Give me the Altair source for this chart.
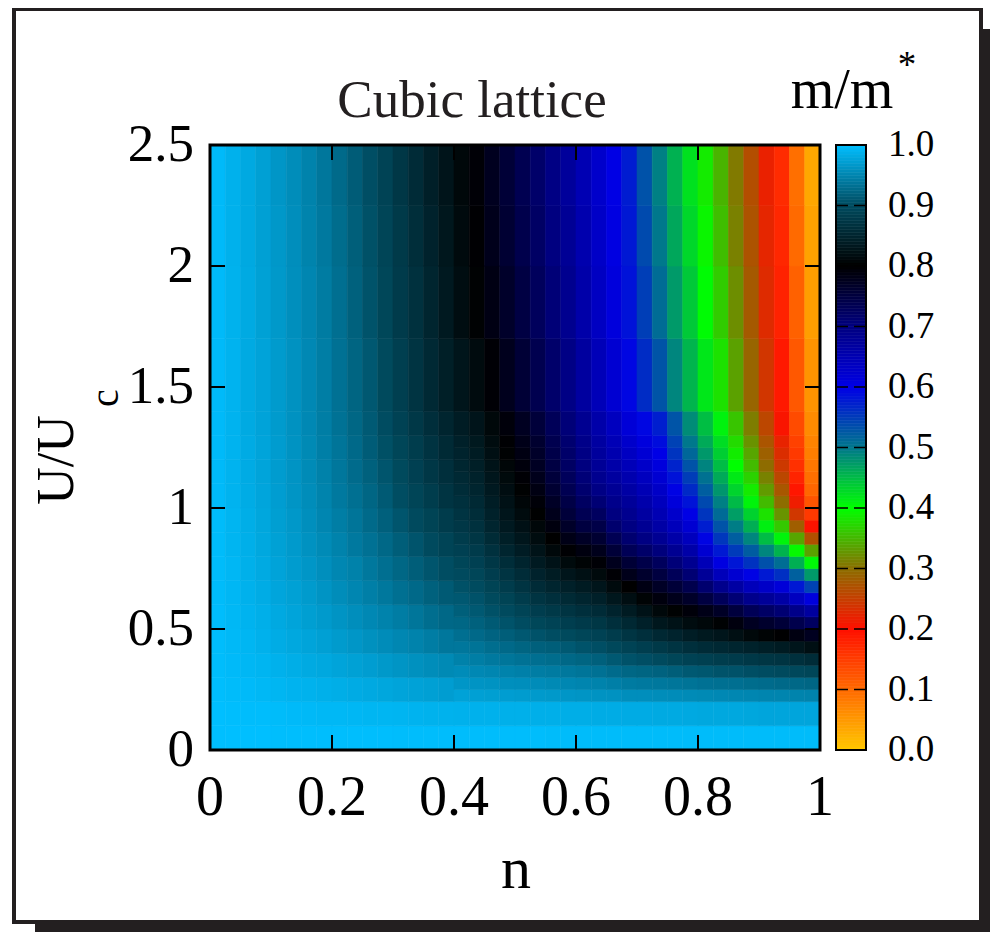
import altair as alt
import pandas as pd

# ---------------- data ----------------
# left block: n from 0 to 0.4, coarse rows in U/Uc
LEFT_N_EDGES = [0.0, 0.025, 0.05, 0.075, 0.1, 0.125, 0.15, 0.175, 0.2, 0.225, 0.25,
                0.275, 0.3, 0.325, 0.35, 0.375, 0.4]
LEFT_U_EDGES = [0.0, 0.1, 0.2, 0.3, 0.4, 0.5, 0.6, 0.7, 0.8, 0.9, 1.0, 1.1, 1.2,
                1.3, 1.4, 1.7, 2.0, 2.25, 2.5]
# m/m* per n-column, bottom (small U) to top
M_LEFT = [
    [1.0, 1.0, .999, .998, .998, .998, .997, .997, .997, .997, .996, .996, .996, .996, .996, .996, .996, .996],
    [1.0, .999, .997, .996, .995, .994, .993, .993, .991, .991, .990, .990, .990, .990, .990, .989, .988, .988],
    [1.0, .998, .996, .993, .992, .990, .988, .987, .986, .985, .984, .983, .983, .982, .982, .982, .981, .981],
    [1.0, .998, .994, .991, .988, .986, .984, .982, .980, .979, .978, .977, .977, .976, .976, .974, .973, .973],
    [.999, .997, .992, .988, .984, .981, .978, .976, .974, .972, .971, .970, .970, .969, .969, .967, .966, .965],
    [.999, .996, .990, .985, .980, .977, .974, .970, .968, .966, .964, .963, .962, .961, .961, .959, .958, .957],
    [.999, .995, .989, .982, .977, .972, .969, .965, .961, .959, .957, .955, .954, .953, .953, .951, .949, .948],
    [.999, .994, .987, .980, .973, .968, .963, .959, .955, .951, .949, .947, .945, .944, .944, .942, .940, .938],
    [.999, .994, .985, .977, .969, .963, .957, .952, .948, .944, .940, .938, .936, .934, .933, .931, .929, .927],
    [.999, .993, .983, .974, .965, .958, .951, .947, .940, .936, .932, .928, .926, .924, .922, .919, .917, .915],
    [.999, .992, .981, .971, .960, .953, .945, .939, .933, .927, .923, .919, .915, .913, .911, .907, .905, .903],
    [.999, .992, .979, .967, .956, .948, .939, .931, .925, .918, .913, .909, .904, .901, .898, .894, .892, .889],
    [.998, .991, .977, .964, .952, .943, .932, .924, .916, .909, .902, .898, .893, .888, .884, .879, .877, .874],
    [.998, .990, .975, .960, .948, .937, .926, .916, .908, .899, .892, .886, .881, .875, .870, .865, .861, .858],
    [.998, .989, .973, .957, .943, .930, .919, .909, .899, .890, .881, .874, .868, .862, .855, .850, .846, .842],
    [.998, .989, .971, .954, .938, .925, .913, .902, .891, .880, .870, .863, .856, .850, .841, .834, .831, .827],
]

# right block: n from 0.4 to 1.0, finer rows where the map changes fast
RIGHT_N_EDGES = [0.4, 0.425, 0.45, 0.475, 0.5, 0.525, 0.55, 0.575, 0.6, 0.625, 0.65,
                 0.675, 0.7, 0.725, 0.75, 0.775, 0.8, 0.825, 0.85, 0.875, 0.9,
                 0.925, 0.95, 0.975, 1.0]
RIGHT_U_EDGES = [0.0, 0.1, 0.2, 0.25, 0.3, 0.35, 0.4, 0.45, 0.5, 0.55, 0.6, 0.65, 0.7,
                 0.75, 0.8, 0.85, 0.9, 0.95, 1.0, 1.05, 1.1, 1.15, 1.2, 1.25, 1.3,
                 1.4, 1.7, 2.0, 2.25, 2.5]
M_RIGHT = [
    [.998, .988, .975, .965, .956, .947, .938, .931, .924, .917, .911, .905, .899, .893, .886, .880, .874, .869, .864, .859, .855, .851, .847, .843, .838, .828, .818, .814, .811],
    [.998, .988, .973, .963, .953, .944, .935, .926, .919, .912, .906, .900, .893, .886, .879, .872, .865, .860, .855, .850, .845, .841, .837, .833, .827, .815, .803, .798, .795],
    [.998, .988, .972, .962, .951, .940, .930, .921, .913, .905, .898, .890, .882, .874, .865, .857, .850, .844, .839, .834, .829, .825, .820, .816, .810, .796, .785, .779, .776],
    [.998, .987, .971, .959, .948, .937, .926, .916, .907, .899, .890, .880, .870, .860, .850, .841, .834, .828, .823, .818, .813, .808, .803, .798, .792, .777, .767, .760, .757],
    [.998, .987, .970, .958, .946, .934, .922, .911, .901, .891, .880, .870, .859, .848, .838, .829, .822, .815, .808, .802, .796, .791, .786, .781, .774, .758, .748, .741, .737],
    [.998, .986, .968, .956, .943, .931, .918, .906, .894, .882, .870, .858, .846, .835, .825, .816, .809, .801, .794, .786, .779, .773, .768, .763, .755, .738, .728, .722, .718],
    [.997, .986, .967, .954, .941, .929, .916, .902, .889, .876, .863, .850, .837, .824, .811, .800, .789, .779, .770, .761, .754, .748, .743, .738, .731, .717, .707, .700, .696],
    [.997, .985, .965, .952, .939, .925, .912, .898, .883, .869, .856, .843, .828, .813, .798, .783, .768, .755, .745, .736, .729, .723, .718, .713, .706, .695, .685, .679, .674],
    [.997, .985, .964, .950, .936, .922, .907, .893, .878, .863, .850, .836, .821, .805, .788, .770, .750, .735, .724, .714, .707, .701, .696, .691, .683, .670, .660, .655, .650],
    [.997, .984, .962, .948, .933, .918, .903, .888, .873, .858, .843, .828, .813, .796, .779, .761, .744, .726, .709, .695, .685, .678, .673, .668, .660, .645, .635, .630, .626],
    [.997, .984, .961, .945, .928, .912, .896, .880, .863, .847, .831, .814, .796, .777, .756, .735, .715, .700, .689, .679, .670, .661, .654, .647, .638, .620, .610, .605, .602],
    [.997, .983, .958, .941, .924, .906, .889, .871, .854, .836, .819, .800, .780, .758, .733, .713, .698, .685, .675, .665, .655, .645, .635, .626, .615, .595, .585, .580, .577],
    [.997, .983, .958, .940, .922, .903, .883, .863, .843, .824, .805, .785, .765, .743, .718, .697, .681, .668, .658, .648, .638, .628, .618, .609, .595, .563, .548, .538, .532],
    [.997, .982, .957, .939, .920, .899, .876, .854, .831, .810, .790, .770, .750, .728, .703, .681, .664, .650, .640, .630, .620, .610, .600, .590, .575, .530, .510, .500, .494],
    [.997, .982, .956, .937, .916, .893, .870, .847, .824, .802, .779, .756, .731, .706, .682, .661, .642, .626, .612, .598, .585, .571, .557, .545, .530, .490, .475, .465, .458],
    [.997, .981, .955, .935, .912, .888, .863, .839, .816, .793, .768, .740, .710, .684, .661, .640, .620, .601, .584, .566, .549, .531, .514, .500, .485, .455, .440, .430, .422],
    [.997, .980, .954, .933, .910, .885, .858, .833, .810, .782, .749, .714, .677, .646, .621, .597, .576, .556, .539, .522, .506, .491, .476, .463, .448, .418, .403, .393, .386],
    [.997, .980, .953, .932, .907, .881, .854, .828, .803, .770, .730, .688, .643, .606, .579, .554, .531, .511, .494, .478, .463, .449, .436, .425, .410, .380, .365, .355, .348],
    [.997, .980, .952, .931, .906, .879, .850, .820, .789, .752, .709, .666, .621, .582, .551, .522, .496, .472, .451, .432, .416, .401, .387, .375, .360, .335, .322, .313, .308],
    [.997, .979, .951, .929, .903, .875, .845, .811, .774, .733, .688, .643, .598, .558, .523, .490, .460, .433, .408, .386, .369, .353, .338, .325, .310, .290, .278, .271, .266],
    [.997, .978, .950, .928, .901, .872, .841, .805, .765, .722, .676, .629, .579, .533, .490, .449, .412, .380, .353, .331, .314, .298, .285, .273, .258, .240, .229, .223, .218],
    [.997, .978, .950, .926, .899, .869, .836, .799, .756, .711, .664, .614, .561, .509, .456, .408, .363, .326, .299, .276, .259, .244, .231, .220, .205, .190, .180, .175, .170],
    [.997, .978, .949, .925, .896, .864, .828, .787, .741, .691, .637, .580, .520, .459, .396, .338, .283, .241, .214, .193, .178, .165, .155, .146, .135, .120, .110, .100, .095],
    [.997, .978, .948, .923, .893, .859, .820, .775, .725, .670, .610, .545, .475, .405, .335, .268, .203, .155, .125, .105, .095, .086, .079, .073, .065, .055, .045, .040, .035],
]

X_TICKS = [0, 0.2, 0.4, 0.6, 0.8, 1]
Y_TICKS = [0, 0.5, 1, 1.5, 2, 2.5]
CB_TICKS = [0.0, 0.1, 0.2, 0.3, 0.4, 0.5, 0.6, 0.7, 0.8, 0.9, 1.0]
CB_COLORS = ["#ffc800", "#ff6a00", "#ff1000", "#8c6e00", "#00ff00", "#00788c",
             "#0000e6", "#000080", "#000000", "#004b5f", "#00bfff"]

# ---------------- build tables ----------------
rows = []
for n_edges, u_edges, cols in ((LEFT_N_EDGES, LEFT_U_EDGES, M_LEFT),
                               (RIGHT_N_EDGES, RIGHT_U_EDGES, M_RIGHT)):
    for j in range(len(n_edges) - 1):
        for i in range(len(u_edges) - 1):
            rows.append({"n0": n_edges[j], "n1": n_edges[j + 1],
                         "u0": u_edges[i], "u1": u_edges[i + 1],
                         "m": cols[j][i]})
heat_df = pd.DataFrame(rows)

cb_df = pd.DataFrame({"lvl": [k * 0.005 for k in range(200)]})
tick_df = pd.DataFrame({"v": CB_TICKS})
one = pd.DataFrame({"a": [0]})

FONT = "Liberation Serif"
INK = "#231f20"
W, H = 610, 605

xs = alt.Scale(domain=[0, 1], nice=False, zero=False)
ys = alt.Scale(domain=[0, 2.5], nice=False, zero=False)
cs = alt.Scale(domain=CB_TICKS, range=CB_COLORS, interpolate="rgb", clamp=True)

# frame + shadow
shadow = alt.Chart(one).mark_rect(fill=INK).encode(
    x=alt.value(-175), x2=alt.value(800), y=alt.value(-116), y2=alt.value(800))
frame = alt.Chart(one).mark_rect(fill="white", stroke=INK, strokeWidth=4).encode(
    x=alt.value(-196), x2=alt.value(771), y=alt.value(-136), y2=alt.value(777))

heat = alt.Chart(heat_df).mark_rect(strokeWidth=0.6).encode(
    x=alt.X("n0:Q", scale=xs, axis=None),
    x2="n1",
    y=alt.Y("u0:Q", scale=ys, axis=None),
    y2="u1",
    color=alt.Color("m:Q", scale=cs, legend=None),
    stroke=alt.Stroke("m:Q", scale=cs, legend=None),
)

# tick labels (drawn through the position scales)
xl_df = pd.DataFrame({"t": X_TICKS})
yl_df = pd.DataFrame({"t": Y_TICKS})
x_labels = alt.Chart(xl_df).transform_calculate(lab="format(datum.t, '~g')").mark_text(
    font=FONT, fontSize=56, align="center", baseline="middle", color="black").encode(
    x=alt.X("t:Q", scale=xs, axis=None), y=alt.value(H + 48), text="lab:N")
y_labels = alt.Chart(yl_df).transform_calculate(lab="format(datum.t, '~g')").mark_text(
    font=FONT, fontSize=53, align="right", baseline="middle", color="black").encode(
    y=alt.Y("t:Q", scale=ys, axis=None), x=alt.value(-16), text="lab:N")

# inward ticks on all four sides
xt = pd.DataFrame({"t": X_TICKS[1:-1]})
yt = pd.DataFrame({"t": Y_TICKS[1:-1]})
tick_bottom = alt.Chart(xt).mark_rule(color="black", strokeWidth=2).encode(
    x=alt.X("t:Q", scale=xs, axis=None), y=alt.value(H), y2=alt.value(H - 15))
tick_top = alt.Chart(xt).mark_rule(color="black", strokeWidth=2).encode(
    x=alt.X("t:Q", scale=xs, axis=None), y=alt.value(0), y2=alt.value(15))
tick_left = alt.Chart(yt).mark_rule(color="black", strokeWidth=2).encode(
    y=alt.Y("t:Q", scale=ys, axis=None), x=alt.value(0), x2=alt.value(15))
tick_right = alt.Chart(yt).mark_rule(color="black", strokeWidth=2).encode(
    y=alt.Y("t:Q", scale=ys, axis=None), x=alt.value(W - 15), x2=alt.value(W))

border = alt.Chart(one).mark_rect(fill=None, stroke="black", strokeWidth=3).encode(
    x=alt.value(0), x2=alt.value(W), y=alt.value(0), y2=alt.value(H))

# colour bar (same colour scale, placed to the right of the map)
CBX0, CBX1 = 626, 656
cbar = alt.Chart(cb_df).transform_calculate(
    y0="datum.lvl * 2.5", y1="(datum.lvl + 0.005) * 2.5", mid="datum.lvl + 0.0025"
).mark_rect(strokeWidth=0.6).encode(
    x=alt.value(CBX0), x2=alt.value(CBX1),
    y=alt.Y("y0:Q", scale=ys, axis=None), y2="y1:Q",
    color=alt.Color("mid:Q", scale=cs, legend=None),
    stroke=alt.Stroke("mid:Q", scale=cs, legend=None),
)
cbar_border = alt.Chart(one).mark_rect(fill=None, stroke="black", strokeWidth=2).encode(
    x=alt.value(CBX0), x2=alt.value(CBX1), y=alt.value(0), y2=alt.value(H))
cbar_ticks = alt.Chart(tick_df).transform_filter(
    "datum.v > 0.05 && datum.v < 0.95").transform_calculate(yy="datum.v * 2.5").mark_rule(
    color="black", strokeWidth=1.5, strokeDash=[12, 6]).encode(
    y=alt.Y("yy:Q", scale=ys, axis=None), x=alt.value(CBX0), x2=alt.value(CBX1))
cbar_labels = alt.Chart(tick_df).transform_calculate(
    yy="datum.v * 2.5", lab="format(datum.v, '.1f')").mark_text(
    font=FONT, fontSize=37, align="left", baseline="middle", color="black").encode(
    y=alt.Y("yy:Q", scale=ys, axis=None), x=alt.value(CBX1 + 22), text="lab:N")

# texts
title = alt.Chart(one).mark_text(text="Cubic lattice", font=FONT, fontSize=53,
                                 color=INK, align="center", baseline="alphabetic").encode(
    x=alt.value(262), y=alt.value(-28))
cb_title = alt.Chart(one).mark_text(text="m/m", font=FONT, fontSize=56,
                                    color="black", align="center", baseline="alphabetic").encode(
    x=alt.value(632), y=alt.value(-37))
cb_star = alt.Chart(one).mark_text(text="*", font=FONT, fontSize=37,
                                   color="black", align="center", baseline="alphabetic").encode(
    x=alt.value(697), y=alt.value(-68))
x_title = alt.Chart(one).mark_text(text="n", font=FONT, fontSize=60,
                                   color="black", align="center", baseline="alphabetic").encode(
    x=alt.value(306), y=alt.value(743))
y_title = alt.Chart(one).mark_text(text="U/U", font=FONT, fontSize=52, angle=270,
                                   color="black", align="center", baseline="alphabetic").encode(
    x=alt.value(-137), y=alt.value(315))
y_sub = alt.Chart(one).mark_text(text="c", font=FONT, fontSize=40, angle=270,
                                 color="black", align="center", baseline="alphabetic").encode(
    x=alt.value(-92), y=alt.value(253))

chart = alt.layer(
    shadow, frame, heat, border, tick_bottom, tick_top, tick_left, tick_right,
    x_labels, y_labels,
    cbar, cbar_ticks, cbar_border, cbar_labels,
    title, cb_title, cb_star, x_title, y_title, y_sub,
).properties(
    width=W, height=H,
    padding={"left": 202, "top": 137, "right": 170, "bottom": 182},
    autosize=alt.AutoSizeParams(type="none"),
).configure_view(stroke=None).configure(background="white")

chart.save("out.html", embed_options={"renderer": "svg", "actions": False})
